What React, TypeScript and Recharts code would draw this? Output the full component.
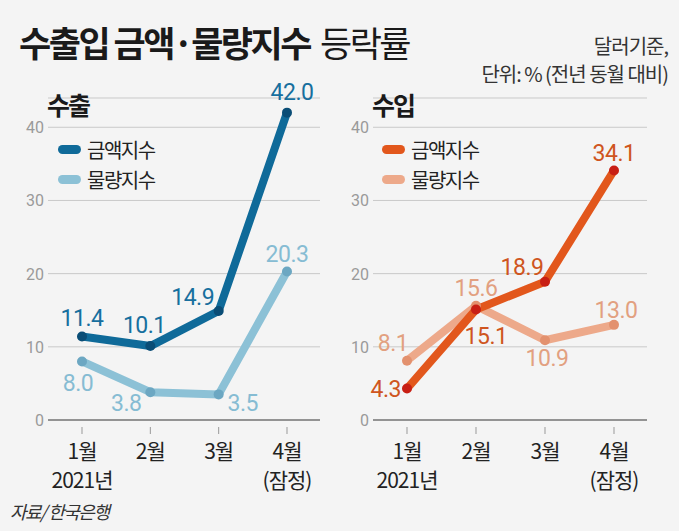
import React from 'react';
import { LineChart, Line, XAxis, YAxis, CartesianGrid, LabelList } from 'recharts';

const months = ['1월', '2월', '3월', '4월'];
const subLabels = ['2021년', '', '', '(잠정)'];
const yTicks = [0, 10, 20, 30, 40];

const exportValue = [11.4, 10.1, 14.9, 42.0];
const exportVolume = [8.0, 3.8, 3.5, 20.3];
const importValue = [4.3, 15.1, 18.9, 34.1];
const importVolume = [8.1, 15.6, 10.9, 13.0];

// label offsets from each point: [dx, dy, anchor]
const exportValueLabelPos: [number, number, string][] = [[0, -11, 'middle'], [-6, -13, 'middle'], [-26, -6, 'middle'], [5, -13, 'middle']];
const exportVolumeLabelPos: [number, number, string][] = [[-4, 30, 'middle'], [-24, 19, 'middle'], [24, 17, 'middle'], [0, -9, 'middle']];
const importValueLabelPos: [number, number, string][] = [[-6, 8, 'end'], [10, 35, 'middle'], [-23, -7, 'middle'], [0, -9, 'middle']];
const importVolumeLabelPos: [number, number, string][] = [[-14, -10, 'middle'], [0, -10, 'middle'], [2, 26, 'middle'], [2, -7, 'middle']];

const exportData = months.map((m, i) => ({ month: m, sub: subLabels[i], value: exportValue[i], volume: exportVolume[i] }));
const importData = months.map((m, i) => ({ month: m, sub: subLabels[i], value: importValue[i], volume: importVolume[i] }));

const KR = "'Noto Sans CJK KR', 'Noto Sans', sans-serif";
const NUM = "'Liberation Sans Narrow', 'Roboto', 'Noto Sans CJK KR', sans-serif";

const makeLabel = (pos: [number, number, string][], color: string) => (props: any) => {
    const { x, y, index, value } = props;
    const [dx, dy, anchor] = pos[index];
    return (
        <text x={x + dx} y={y + dy} textAnchor={anchor} fill={color} fontSize={23} fontFamily={NUM} letterSpacing={-0.5}>
            {Number(value).toFixed(1)}
        </text>
    );
};

const MonthTick = (props: any) => {
    const { x, y, payload, index } = props;
    return (
        <g>
            <line x1={x} x2={x} y1={y + 5} y2={y + 12} stroke="#999" strokeWidth={1} />
            <text x={x} y={y + 37} textAnchor="middle" fill="#222" fontSize={21} fontFamily={KR} letterSpacing={-1}>{payload.value}</text>
            <text x={x} y={y + 66} textAnchor="middle" fill="#222" fontSize={21} fontFamily={KR} letterSpacing={-1}>{subLabels[index]}</text>
        </g>
    );
};

const ValueTick = (props: any) => {
    const { x, y, payload } = props;
    return (
        <text x={x} y={y + 6} textAnchor="end" fill="#9a9a9a" fontSize={16} fontFamily={NUM}>{payload.value}</text>
    );
};

const Legend = ({ left, colors }: { left: number; colors: string[] }) => (
    <div style={{ position: 'absolute', left, top: 134 }}>
        {['금액지수', '물량지수'].map((name, i) => (
            <div key={name} style={{ display: 'flex', alignItems: 'center', height: 30 }}>
                <div style={{ width: 23, height: 9, borderRadius: 5, background: colors[i], marginRight: 6 }} />
                <span style={{ fontSize: 20, color: '#222', letterSpacing: -1.5, fontFamily: KR }}>{name}</span>
            </div>
        ))}
    </div>
);

const Panel = ({ data, yWidth, width, right, colors, positions }: any) => (
    <LineChart width={width} height={531} data={data} margin={{ top: 98, right, left: 0, bottom: 0 }}>
        <CartesianGrid horizontal vertical={false} stroke="#c9c9c9" />
        <XAxis dataKey="month" height={111} padding={{ left: 34, right: 33 }} axisLine={{ stroke: '#7a7a7a', strokeWidth: 1.5 }} tickLine={false} tickSize={0} tick={<MonthTick />} interval={0} />
        <YAxis domain={[0, 44]} ticks={yTicks} width={yWidth} axisLine={false} tickLine={false} tickSize={0} tickMargin={4} tick={<ValueTick />} />
        <Line dataKey="volume" stroke={colors[2]} strokeWidth={8} strokeLinejoin="round" strokeLinecap="round" dot={{ r: 5, fill: colors[3], stroke: 'none' }} isAnimationActive={false}>
            <LabelList dataKey="volume" content={makeLabel(positions[1], colors[5])} />
        </Line>
        <Line dataKey="value" stroke={colors[0]} strokeWidth={8} strokeLinejoin="round" strokeLinecap="round" dot={{ r: 5, fill: colors[1], stroke: 'none' }} isAnimationActive={false}>
            <LabelList dataKey="value" content={makeLabel(positions[0], colors[4])} />
        </Line>
    </LineChart>
);

export default function App() {
    const exportColors = ['#0f6a99', '#0a4d76', '#8cc1d6', '#6ca7c2', '#176f9e', '#86bcd3'];
    const importColors = ['#e2571c', '#c81f14', '#eda98a', '#e3916e', '#cf5520', '#e2a080'];
    return (
        <div style={{ position: 'relative', width: 679, height: 531, background: '#f4f4f4', fontFamily: KR, overflow: 'hidden' }}>
            <style>{'body{margin:0}'}</style>
            <div style={{ position: 'absolute', left: 0, top: 0 }}>
                <Panel data={exportData} yWidth={48} width={340} right={20} colors={exportColors} positions={[exportValueLabelPos, exportVolumeLabelPos]} />
            </div>
            <div style={{ position: 'absolute', left: 340, top: 0 }}>
                <Panel data={importData} yWidth={33} width={339} right={32} colors={importColors} positions={[importValueLabelPos, importVolumeLabelPos]} />
            </div>
            <div style={{ position: 'absolute', left: 19, top: 16, fontSize: 35, color: '#1a1a1a', letterSpacing: -2.5, whiteSpace: 'nowrap' }}>
                <span style={{ fontWeight: 700 }}>수출입 금액·물량지수</span>
                <span style={{ fontWeight: 400, marginLeft: 10 }}>등락률</span>
            </div>
            <div style={{ position: 'absolute', right: 11, top: 32, textAlign: 'right', fontSize: 20, lineHeight: '28px', color: '#333', letterSpacing: -1, whiteSpace: 'nowrap' }}>
                달러기준,<br />단위: % (전년 동월 대비)
            </div>
            <div style={{ position: 'absolute', left: 47, top: 86, fontSize: 25, fontWeight: 700, color: '#1a1a1a', letterSpacing: -2 }}>수출</div>
            <div style={{ position: 'absolute', left: 372, top: 86, fontSize: 25, fontWeight: 700, color: '#1a1a1a', letterSpacing: -2 }}>수입</div>
            <Legend left={58} colors={[exportColors[0], exportColors[2]]} />
            <Legend left={382} colors={[importColors[0], importColors[2]]} />
            <div style={{ position: 'absolute', left: 10, top: 498, fontSize: 18, color: '#333', letterSpacing: -1.5, fontStyle: 'italic' }}>자료/ 한국은행</div>
        </div>
    );
}
